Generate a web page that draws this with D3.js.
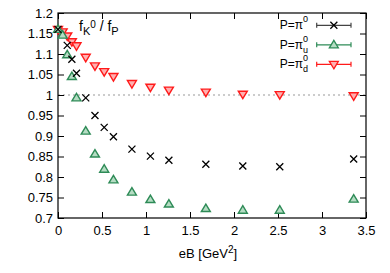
<!DOCTYPE html>
<html>
<head>
<meta charset="utf-8">
<script src="https://d3js.org/d3.v7.min.js"></script>
<style>
  body { margin: 0; background: #fff; }
  text { font-family: "Liberation Sans", Arial, sans-serif; }
</style>
</head>
<body>
<div id="my_dataviz"></div>
<script>
    // data
    const eB = [0, 0.0525, 0.105, 0.1575, 0.21, 0.315, 0.42, 0.525, 0.63, 0.84, 1.05, 1.26, 1.68, 2.10, 2.52, 3.36];
    const ratioPi0 = [1.160, null, 1.121, 1.087, 1.053, 0.993, 0.950, 0.921, 0.898, 0.868, 0.851, 0.841, 0.831, 0.827, 0.825, 0.844];
    const ratioPiU = [1.160, 1.146, 1.098, 1.045, 0.993, 0.912, 0.856, 0.819, 0.793, 0.763, 0.745, 0.734, 0.723, 0.719, 0.719, 0.746];
    const ratioPiD = [1.160, 1.154, 1.144, 1.130, 1.120, 1.092, 1.071, 1.057, 1.045, 1.028, 1.019, 1.012, 1.007, 1.002, 1.001, 0.998];
    const xTicks = [0, 0.5, 1, 1.5, 2, 2.5, 3, 3.5];
    const yTicks = [0.7, 0.75, 0.8, 0.85, 0.9, 0.95, 1, 1.05, 1.1, 1.15, 1.2];

    const margin = {top: 13, right: 24, bottom: 55, left: 58},
        width = 390 - margin.left - margin.right,
        height = 273 - margin.top - margin.bottom;

    var svg = d3.select("#my_dataviz")
        .append("svg")
        .attr("width", 390)
        .attr("height", 273)
        .append("g")
        .attr("transform", "translate(" + margin.left + "," + margin.top + ")");

    var x = d3.scaleLinear().domain([0, 3.5]).range([0, width]);
    var y = d3.scaleLinear().domain([0.7, 1.2]).range([height, 0]);

    // dashed line at 1
    svg.append("line")
        .attr("x1", 0).attr("x2", width)
        .attr("y1", y(1)).attr("y2", y(1))
        .attr("stroke", "#999").attr("stroke-width", 1.2)
        .attr("stroke-dasharray", "2,3");

    // axes with inward ticks, mirrored
    function styleAxis(g) {
        g.select(".domain").remove();
        g.selectAll("line").attr("stroke", "#000");
        g.selectAll("text").attr("font-size", 13).attr("fill", "#000")
            .attr("font-family", "'Liberation Sans', Arial, sans-serif");
    }
    svg.append("g")
        .attr("transform", "translate(0," + height + ")")
        .call(d3.axisBottom(x).tickValues(xTicks).tickSize(-6).tickPadding(8).tickFormat(d3.format("")))
        .call(styleAxis);
    svg.append("g")
        .call(d3.axisTop(x).tickValues(xTicks).tickSize(-6).tickFormat(""))
        .call(styleAxis);
    svg.append("g")
        .call(d3.axisLeft(y).tickValues(yTicks).tickSize(-6).tickPadding(5).tickFormat(d3.format("")))
        .call(styleAxis);
    svg.append("g")
        .attr("transform", "translate(" + width + ",0)")
        .call(d3.axisRight(y).tickValues(yTicks).tickSize(-6).tickFormat(""))
        .call(styleAxis);

    svg.append("rect")
        .attr("width", width).attr("height", height)
        .attr("fill", "none").attr("stroke", "#000").attr("stroke-width", 1.2);

    const green = "#2e8b57", red = "#ff1a1a";

    function toPoints(vals) {
        return eB.map((e, i) => ({x: e, y: vals[i]})).filter(d => d.y !== null);
    }

    const triUp = "M0,-4.5L4.5,3L-4.5,3Z";
    const triDown = "M0,4.5L4.5,-3L-4.5,-3Z";
    const crossPath = "M-3.5,-3.5L3.5,3.5M-3.5,3.5L3.5,-3.5";

    // red down triangles
    svg.append("g").selectAll("path")
        .data(toPoints(ratioPiD)).enter().append("path")
        .attr("d", triDown)
        .attr("transform", d => "translate(" + x(d.x) + "," + y(d.y) + ")")
        .attr("fill", "#ffb0b0").attr("stroke", red).attr("stroke-width", 1.4);

    // green up triangles
    svg.append("g").selectAll("path")
        .data(toPoints(ratioPiU)).enter().append("path")
        .attr("d", triUp)
        .attr("transform", d => "translate(" + x(d.x) + "," + y(d.y) + ")")
        .attr("fill", "#b5dcc3").attr("stroke", green).attr("stroke-width", 1.4);

    // black crosses
    svg.append("g").selectAll("path")
        .data(toPoints(ratioPi0)).enter().append("path")
        .attr("d", crossPath)
        .attr("transform", d => "translate(" + x(d.x) + "," + y(d.y) + ")")
        .attr("fill", "none").attr("stroke", "#000").attr("stroke-width", 1.3);

    // title
    const title = svg.append("text")
        .attr("x", 21).attr("y", 18)
        .attr("font-size", 14).attr("fill", "#000");
    title.append("tspan").text("f");
    title.append("tspan").attr("font-size", 11).attr("dy", 4).text("K");
    title.append("tspan").attr("font-size", 10).attr("dy", -7).text("0");
    title.append("tspan").attr("dy", 3).text(" / f");
    title.append("tspan").attr("font-size", 11).attr("dy", 4).text("P");

    // legend
    const legend = [
        {sub: "", color: "#444", mark: crossPath, fill: "none", stroke: "#000"},
        {sub: "u", color: green, mark: triUp, fill: "#b5dcc3", stroke: green},
        {sub: "d", color: red, mark: triDown, fill: "#ffb0b0", stroke: red}
    ];
    const lx0 = 316.7 - margin.left, lx1 = 351 - margin.left;
    legend.forEach((l, i) => {
        const ly = 25.3 + i * 19.5 - margin.top;
        const t = svg.append("text")
            .attr("x", 308 - margin.left).attr("y", ly + 4)
            .attr("text-anchor", "end")
            .attr("font-family", "'Liberation Serif', 'Times New Roman', serif")
            .attr("font-size", 12).attr("fill", "#000");
        t.append("tspan").text("P=π");
        if (l.sub) {
            t.append("tspan").attr("font-size", 9).attr("dy", -7).text("0");
            t.append("tspan").attr("font-size", 9).attr("dx", -5).attr("dy", 11).text(l.sub);
        } else {
            t.append("tspan").attr("font-size", 9).attr("dy", -7).text("0");
        }
        svg.append("line").attr("x1", lx0).attr("x2", lx1).attr("y1", ly).attr("y2", ly)
            .attr("stroke", l.color).attr("stroke-width", 1.2);
        [lx0, lx1].forEach(cx => svg.append("line")
            .attr("x1", cx).attr("x2", cx).attr("y1", ly - 2.5).attr("y2", ly + 2.5)
            .attr("stroke", l.color).attr("stroke-width", 1.2));
        svg.append("path").attr("d", l.mark)
            .attr("transform", "translate(" + ((lx0 + lx1) / 2) + "," + ly + ")")
            .attr("fill", l.fill).attr("stroke", l.stroke).attr("stroke-width", 1.3);
    });

    // x label
    const xl = svg.append("text")
        .attr("x", width / 2 - 4).attr("y", height + 40)
        .attr("text-anchor", "middle").attr("font-size", 13).attr("fill", "#000");
    xl.append("tspan").text("eB [GeV");
    xl.append("tspan").attr("font-size", 10).attr("dy", -5).text("2");
    xl.append("tspan").attr("dy", 5).text("]");
</script>
</body>
</html>
